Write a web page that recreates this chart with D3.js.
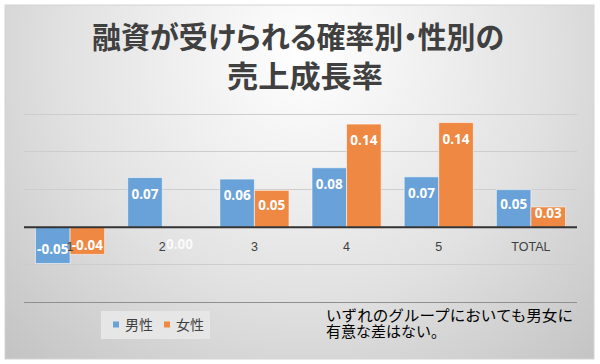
<!DOCTYPE html>
<html>
<head>
<meta charset="utf-8">
<script src="https://cdn.jsdelivr.net/npm/d3@7"></script>
<style>
  html, body { margin: 0; padding: 0; background: #ffffff; }
  svg { display: block; }
</style>
</head>
<body>
<svg id="chart" width="600" height="364"></svg>
<script>
// ---- data ----
const categories = ["1", "2", "3", "4", "5", "TOTAL"];
const seriesNames = ["男性", "女性"];
const maleValues = [-0.048, 0.066, 0.064, 0.079, 0.067, 0.050];
const femaleValues = [-0.036, 0.000, 0.049, 0.137, 0.139, 0.027];
const yTicks = [-0.10, -0.05, 0, 0.05, 0.10, 0.15];
const titleLines = ["融資が受けられる確率別・性別の", "売上成長率"];
const noteLines = ["いずれのグループにおいても男女に", "有意な差はない。"];

const colors = ["#69a2d8", "#ee8843"];
const series = [maleValues, femaleValues];

const svg = d3.select("#chart");
const defs = svg.append("defs");
const grad = defs.append("radialGradient")
  .attr("id", "bg").attr("gradientUnits", "userSpaceOnUse")
  .attr("cx", 305).attr("cy", 55).attr("r", 430);
grad.append("stop").attr("offset", 0).attr("stop-color", "#ffffff");
grad.append("stop").attr("offset", 0.55).attr("stop-color", "#e2e2e2");
grad.append("stop").attr("offset", 1).attr("stop-color", "#c2c2c2");

// chart frame
svg.append("rect").attr("x", 5).attr("y", 5).attr("width", 589).attr("height", 354)
  .attr("fill", "url(#bg)").attr("stroke", "#d4d4d4").attr("stroke-width", 1);

// scales
const x0 = d3.scaleBand().domain(categories).range([24, 577])
  .paddingInner(0.25).paddingOuter(0.125);
const x1 = d3.scaleBand().domain(d3.range(series.length)).range([0, x0.bandwidth()]);
const y = d3.scaleLinear().domain([-0.10, 0.15]).range([302.6, 114.3]);

// gridlines
const grid = svg.append("g");
grid.selectAll("line").data(yTicks).join("line")
  .attr("x1", 24).attr("x2", 577)
  .attr("y1", d => y(d)).attr("y2", d => y(d))
  .attr("stroke", d => d === -0.10 ? "#8f8f8f" : "#cdcdcd")
  .attr("stroke-width", 1)
  .attr("shape-rendering", "crispEdges");

// bars
const bars = svg.append("g");
series.forEach((vals, si) => {
  bars.selectAll(null).data(vals).join("rect")
    .attr("x", (d, i) => x0(categories[i]) + x1(si))
    .attr("width", x1.bandwidth())
    .attr("y", d => y(Math.max(0, d)))
    .attr("height", d => Math.abs(y(d) - y(0)))
    .attr("fill", colors[si])
    .attr("stroke", "rgba(255,255,255,0.55)")
    .attr("stroke-width", 1);
});

// zero axis line
svg.append("line").attr("x1", 24).attr("x2", 577)
  .attr("y1", y(0)).attr("y2", y(0))
  .attr("stroke", "#333333").attr("stroke-width", 2);

// category labels
const xAxis = d3.axisBottom(x0).tickSize(0).tickPadding(0);
const axG = svg.append("g").attr("transform", `translate(0, ${y(0)})`).call(xAxis);
axG.select(".domain").remove();
axG.selectAll("text")
  .attr("y", 24).attr("dy", 0)
  .attr("fill", "#404040")
  .style("font-family", "'Liberation Sans', Arial, sans-serif")
  .style("font-size", "12.5px");

// data labels
const fmt = d3.formatLocale({decimal: ".", thousands: ",", grouping: [3], currency: ["", ""], minus: "-"}).format(".2f");
const labels = svg.append("g");
series.forEach((vals, si) => {
  labels.selectAll(null).data(vals).join("text")
    .attr("x", (d, i) => x0(categories[i]) + x1(si) + x1.bandwidth() / 2)
    .attr("y", d => {
      const end = y(d), zero = y(0);
      const h = Math.abs(end - zero);
      let c;
      if (h < 1) c = zero + 16.5;
      else if (d > 0) c = Math.min(end + 16.5, (end + zero) / 2 - 4);
      else c = Math.max(end - 16.5, (end + zero) / 2 + 4);
      return c + 4.8;
    })
    .attr("text-anchor", "middle")
    .attr("fill", d => d === 0 ? "rgba(255,255,255,0.85)" : "#ffffff")
    .style("font-family", "'Open Sans', 'Liberation Sans', sans-serif")
    .style("font-weight", "700")
    .style("font-size", "13.5px")
    .text(d => fmt(d));
});

// title
const title = svg.append("g")
  .style("font-family", "'Noto Sans CJK JP', sans-serif")
  .style("font-weight", "700")
  .style("font-size", "30px")
  .style("font-feature-settings", "'palt'")
  .attr("fill", "#404040");
title.append("text").attr("x", 92).attr("y", 48)
  .attr("textLength", 412).attr("lengthAdjust", "spacingAndGlyphs")
  .text(titleLines[0]);
title.append("text").attr("x", 227).attr("y", 87)
  .attr("textLength", 156).attr("lengthAdjust", "spacingAndGlyphs")
  .text(titleLines[1]);

// legend
const lg = svg.append("g");
lg.append("rect").attr("x", 101).attr("y", 311).attr("width", 109).attr("height", 28)
  .attr("fill", "#e6e6e6");
const legendX = [113, 164];
seriesNames.forEach((name, i) => {
  lg.append("rect").attr("x", legendX[i]).attr("y", 321.5).attr("width", 6).attr("height", 6)
    .attr("fill", colors[i]);
  lg.append("text").attr("x", legendX[i] + 12).attr("y", 329.5)
    .attr("fill", "#404040")
    .style("font-family", "'Noto Sans CJK JP', sans-serif")
    .style("font-size", "14px")
    .text(name);
});

// note
const note = svg.append("g")
  .style("font-family", "'Noto Sans CJK JP', sans-serif")
  .style("font-size", "15px")
  .attr("fill", "#000000");
note.append("text").attr("x", 326).attr("y", 320.5)
  .attr("textLength", 247).attr("lengthAdjust", "spacingAndGlyphs")
  .text(noteLines[0]);
note.append("text").attr("x", 326).attr("y", 336.5)
  .text(noteLines[1]);
</script>
</body>
</html>
